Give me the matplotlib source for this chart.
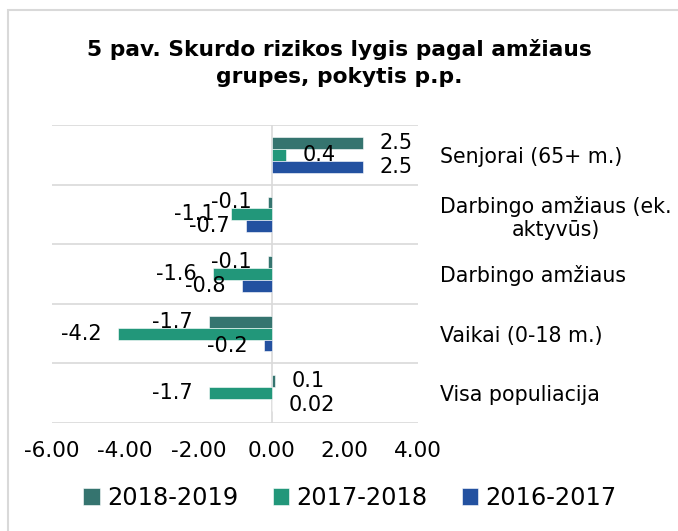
import numpy as np
import matplotlib
matplotlib.use("Agg")
import matplotlib.pyplot as plt
from matplotlib.patches import Rectangle

# data (bottom to top, as drawn)
categories = ['Visa populiacija', 'Vaikai (0-18 m.)', 'Darbingo amžiaus',
              'Darbingo amžiaus (ek.\naktyvūs)', 'Senjorai (65+ m.)']
series_names = ['2018-2019', '2017-2018', '2016-2017']
v_2018_2019 = [0.1, -1.7, -0.1, -0.1, 2.5]
v_2017_2018 = [-1.7, -4.2, -1.6, -1.1, 0.4]
v_2016_2017 = [0.02, -0.2, -0.8, -0.7, 2.5]
x_ticks = [-6, -4, -2, 0, 2, 4]

colors = ['#35746f', '#22977a', '#2351a0']
title = '5 pav. Skurdo rizikos lygis pagal amžiaus\ngrupes, pokytis p.p.'

W, H = 678, 531
fig = plt.figure(figsize=(W / 100, H / 100), dpi=100)
ax = fig.add_axes([52 / W, 1 - 423 / H, (418 - 52) / W, (423 - 125) / H])

y = np.arange(len(categories))
bar_h = 0.2
offsets = [bar_h, 0, -bar_h]
all_vals = [v_2018_2019, v_2017_2018, v_2016_2017]

for vals, off, col, name in zip(all_vals, offsets, colors, series_names):
    bars = ax.barh(y + off, vals, height=bar_h, color=col, edgecolor='white',
                   linewidth=0.4, label=name)
    for b, v in zip(bars, vals):
        sign = 1 if v >= 0 else -1
        ax.annotate(f'{v:g}', xy=(v, b.get_y() + b.get_height() / 2),
                    xytext=(sign * 12, 0), textcoords='offset points',
                    ha='left' if v >= 0 else 'right', va='center',
                    fontsize=15, color='black')

ax.set_xlim(-6, 4)
ax.set_ylim(-0.5, len(categories) - 0.5)
ax.set_xticks(x_ticks)
ax.set_xticklabels([f'{t:.2f}' for t in x_ticks], fontsize=15.5)
ax.tick_params(axis='x', length=0, pad=13)

ax.yaxis.tick_right()
ax.set_yticks(y)
ax.set_yticklabels(categories, fontsize=14.8)
ax.tick_params(axis='y', length=0, pad=16)
for lab in ax.get_yticklabels():
    lab.set_multialignment('center')

ax.set_yticks(np.arange(-0.5, len(categories)), minor=True)
ax.tick_params(axis='y', which='minor', length=0)
ax.grid(True, axis='y', which='minor', color='#d9d9d9', linewidth=1.2)
ax.grid(False, axis='y', which='major')
ax.grid(False, axis='x')
ax.axvline(0, color='#d9d9d9', linewidth=1.2, zorder=0)
ax.set_axisbelow(True)
for s in ax.spines.values():
    s.set_visible(False)

fig.text(0.5, 1 - 63 / H, title, ha='center', va='center', fontsize=15.7,
         fontweight='bold', linespacing=1.45)

handles, labels = ax.get_legend_handles_labels()
fig.legend(handles, labels, loc='center', bbox_to_anchor=(350 / W, 1 - 498 / H),
           ncol=3, frameon=False, fontsize=17.3, handlelength=0.67,
           handleheight=0.67, handletextpad=0.3, columnspacing=1.45)

fig.add_artist(Rectangle((8 / W, -0.1), 1.2, 1 - 10 / H + 0.1, transform=fig.transFigure,
                         fill=False, edgecolor='#d9d9d9', linewidth=1.5))

fig.savefig('out.png', dpi=100)
